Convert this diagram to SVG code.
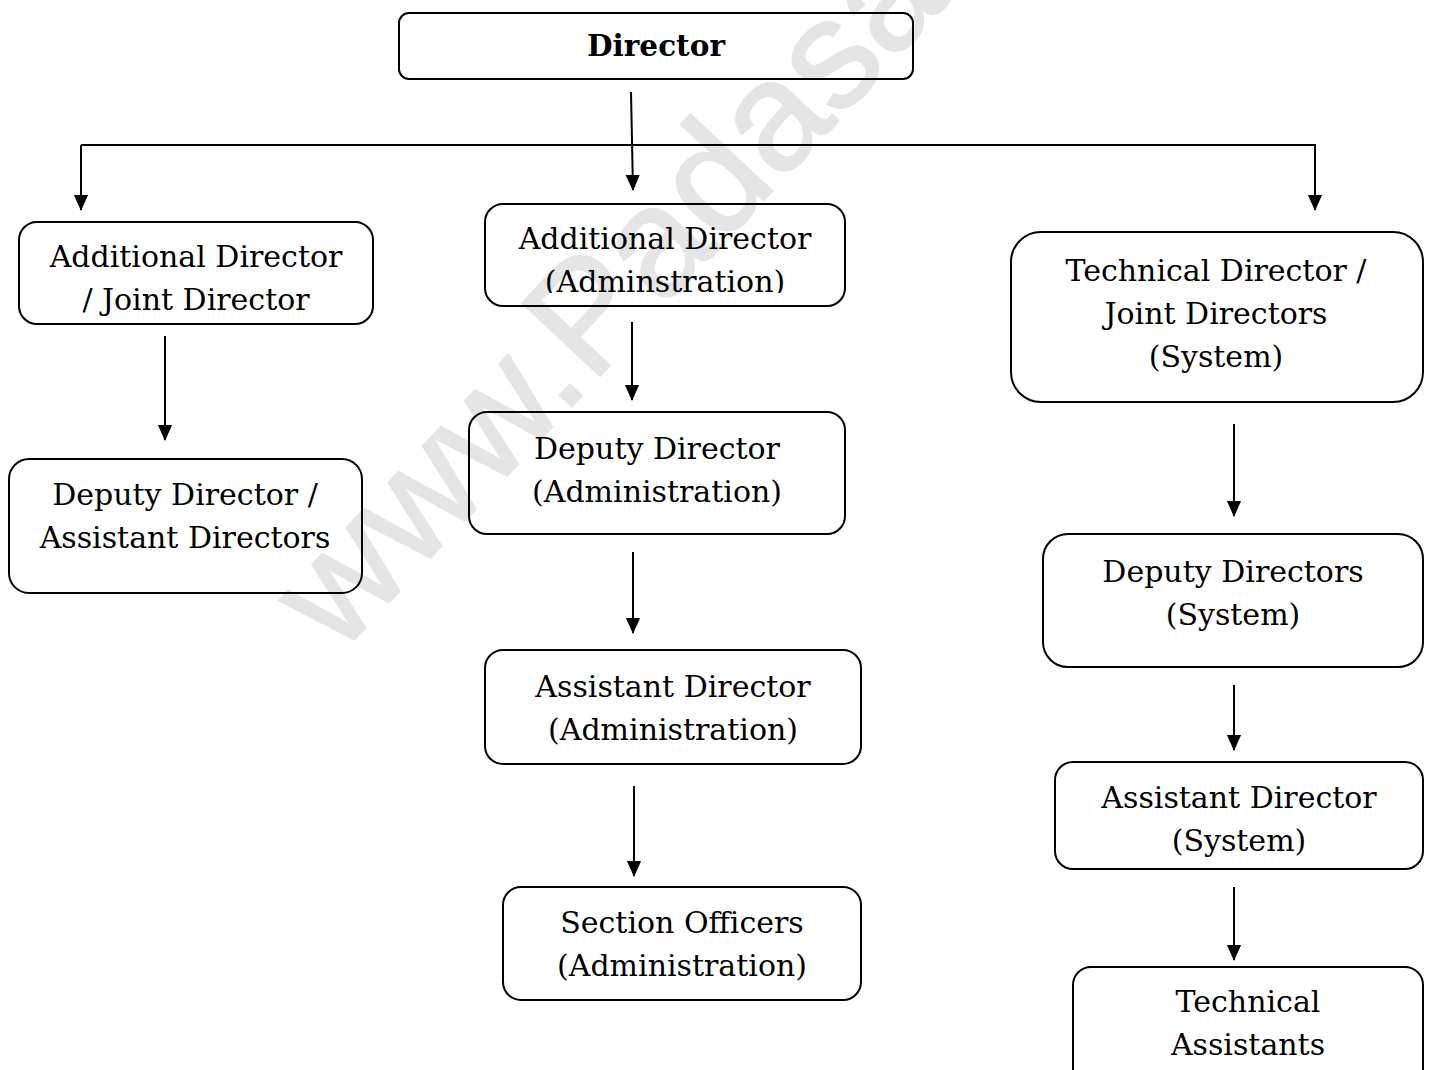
<svg xmlns="http://www.w3.org/2000/svg" width="1430" height="1070" viewBox="0 0 1430 1070">
<defs>
<style>
.box{fill:none;stroke:#000;stroke-width:2}
.t{font-family:"DejaVu Serif","Liberation Serif",serif;font-size:30px;fill:#000;text-anchor:middle}
.tb{font-family:"DejaVu Serif","Liberation Serif",serif;font-size:29.5px;font-weight:bold;fill:#000;text-anchor:middle}
.c{fill:none;stroke:#000;stroke-width:2}
.wm{font-family:"Liberation Sans",Arial,sans-serif;font-size:155px;fill:#e5e5e5;stroke:#e5e5e5;stroke-width:2}
</style>
<marker id="arr" markerUnits="userSpaceOnUse" markerWidth="16" markerHeight="18" refX="17" refY="8" orient="auto" viewBox="0 0 18 16">
<path d="M0,0 L18,8 L0,16 Z" fill="#000"/>
</marker>
<clipPath id="clipM1"><rect x="485" y="204" width="360" height="89"/></clipPath>
<clipPath id="clipR3"><rect x="1055" y="762" width="368" height="95"/></clipPath>
</defs>
<rect width="1430" height="1070" fill="#fff"/>
<text class="wm" x="339" y="656" transform="rotate(-47 339 656)">www.Padasalai.Net</text>

<g id="connectors">
<path class="c" d="M631,92 L633,190" marker-end="url(#arr)"/>
<path class="c" d="M81,145 L1315,145 L1315,210" marker-end="url(#arr)"/>
<path class="c" d="M81,145 L81,210" marker-end="url(#arr)"/>
<path class="c" d="M165,336 L165,440" marker-end="url(#arr)"/>
<path class="c" d="M632,322 L632,400" marker-end="url(#arr)"/>
<path class="c" d="M633,552 L633,633" marker-end="url(#arr)"/>
<path class="c" d="M634,786 L634,876" marker-end="url(#arr)"/>
<path class="c" d="M1234,424 L1234,516" marker-end="url(#arr)"/>
<path class="c" d="M1234,685 L1234,750" marker-end="url(#arr)"/>
<path class="c" d="M1234,887 L1234,960" marker-end="url(#arr)"/>
</g>

<g id="director">
<rect class="box" x="399" y="13" width="514" height="66" rx="10"/>
<text class="tb" x="656" y="56">Director</text>
</g>

<g id="add-joint">
<rect class="box" x="19" y="222" width="354" height="102" rx="18"/>
<text class="t" x="196" y="267">Additional Director</text>
<text class="t" x="196" y="310">/ Joint Director</text>
</g>

<g id="deputy-assistant">
<rect class="box" x="9" y="459" width="353" height="134" rx="20"/>
<text class="t" x="185" y="505">Deputy Director /</text>
<text class="t" x="185" y="548">Assistant Directors</text>
</g>

<g id="add-admin">
<rect class="box" x="485" y="204" width="360" height="102" rx="18"/>
<g clip-path="url(#clipM1)">
<text class="t" x="665" y="249">Additional Director</text>
<text class="t" x="665" y="292">(Adminstration)</text>
</g>
</g>

<g id="deputy-admin">
<rect class="box" x="469" y="412" width="376" height="122" rx="18"/>
<text class="t" x="657" y="459">Deputy Director</text>
<text class="t" x="657" y="502">(Administration)</text>
</g>

<g id="assistant-admin">
<rect class="box" x="485" y="650" width="376" height="114" rx="18"/>
<text class="t" x="673" y="697">Assistant Director</text>
<text class="t" x="673" y="740">(Administration)</text>
</g>

<g id="section-officers">
<rect class="box" x="503" y="887" width="358" height="113" rx="18"/>
<text class="t" x="682" y="933">Section Officers</text>
<text class="t" x="682" y="976">(Administration)</text>
</g>

<g id="tech-director">
<rect class="box" x="1011" y="232" width="412" height="170" rx="30"/>
<text class="t" x="1216" y="281">Technical Director /</text>
<text class="t" x="1216" y="324">Joint Directors</text>
<text class="t" x="1216" y="367">(System)</text>
</g>

<g id="deputy-system">
<rect class="box" x="1043" y="534" width="380" height="133" rx="25"/>
<text class="t" x="1233" y="582">Deputy Directors</text>
<text class="t" x="1233" y="625">(System)</text>
</g>

<g id="assistant-system">
<rect class="box" x="1055" y="762" width="368" height="107" rx="18"/>
<g clip-path="url(#clipR3)">
<text class="t" x="1239" y="808">Assistant Director</text>
<text class="t" x="1239" y="851">(System)</text>
</g>
</g>

<g id="technical-assistants">
<rect class="box" x="1073" y="967" width="350" height="120" rx="18"/>
<text class="t" x="1248" y="1012">Technical</text>
<text class="t" x="1248" y="1055">Assistants</text>
</g>
</svg>
